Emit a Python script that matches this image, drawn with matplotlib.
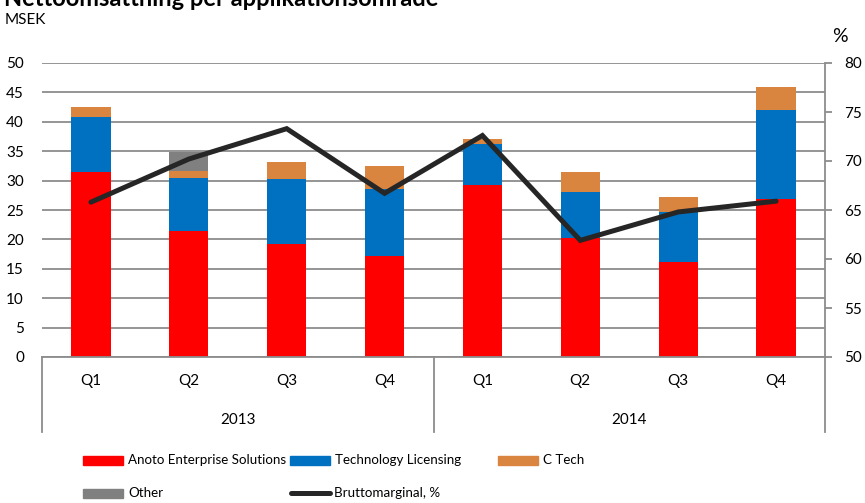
import matplotlib
matplotlib.use("Agg")
import matplotlib.pyplot as plt
from matplotlib.patches import Rectangle
from matplotlib.lines import Line2D
from matplotlib.transforms import blended_transform_factory

# data (MSEK per quarter, 2013 Q1 .. 2014 Q4)
quarters = ["Q1", "Q2", "Q3", "Q4", "Q1", "Q2", "Q3", "Q4"]
years = ["2013", "2014"]
enterprise = [31.4, 21.4, 19.3, 17.1, 29.3, 20.2, 16.2, 26.9]
licensing = [9.4, 9.0, 10.9, 11.4, 6.9, 7.9, 8.4, 15.1]
ctech = [1.8, 1.2, 3.0, 3.9, 0.9, 3.3, 2.6, 3.9]
other = [0.0, 3.3, 0.0, 0.0, 0.0, 0.0, 0.0, 0.0]
gross_margin = [65.8, 70.2, 73.3, 66.7, 72.6, 61.9, 64.8, 65.9]

series_labels = ["Anoto Enterprise Solutions", "Technology Licensing", "C Tech",
                 "Other", "Bruttomarginal, %"]
colors = ["#FF0000", "#0070C0", "#D9843F", "#808080"]
line_color = "#262626"
grid_color = "#8C8C8C"

plt.rcParams["font.family"] = ["Lato", "DejaVu Sans"]

fig = plt.figure(figsize=(8.65, 5.03), dpi=100)
ax = fig.add_axes([42 / 865, 1 - 357 / 503, 783 / 865, 294 / 503])

x = list(range(len(quarters)))
bottom = [0.0] * len(x)
for vals, c in zip([enterprise, licensing, ctech, other], colors):
    ax.bar(x, vals, width=0.4, bottom=bottom, color=c, zorder=2)
    bottom = [b + v for b, v in zip(bottom, vals)]

ax.set_xlim(-0.5, 7.5)
ax.set_ylim(0, 50)
ax.set_yticks(range(0, 51, 5))
ax.yaxis.grid(True, color=grid_color, linewidth=1.3, zorder=0)
ax.set_axisbelow(True)
for s in ["top", "left", "right"]:
    ax.spines[s].set_visible(False)
ax.spines["bottom"].set_color(grid_color)
ax.spines["bottom"].set_linewidth(1.3)
ax.tick_params(axis="y", length=0, pad=13, labelsize=11)
ax.set_xticks(x)
ax.set_xticklabels(quarters)
ax.tick_params(axis="x", length=0, pad=12, labelsize=11)

# multi-level category axis
trans = blended_transform_factory(ax.transData, ax.transAxes)
for xs in [-0.5, 3.5, 7.5]:
    ax.add_line(Line2D([xs, xs], [0, -75 / 294], transform=trans, color=grid_color,
                       linewidth=1.3, clip_on=False))
for i, yr in enumerate(years):
    ax.text(1.5 + 4 * i, -63 / 294, yr, transform=trans, ha="center", va="center", fontsize=11)

ax2 = ax.twinx()
ax2.plot(x, gross_margin, color=line_color, linewidth=3.6, solid_capstyle="round",
         solid_joinstyle="miter", zorder=3)
ax2.set_ylim(50, 80)
ax2.set_yticks(range(50, 81, 5))
for s in ["top", "left", "bottom"]:
    ax2.spines[s].set_visible(False)
ax2.spines["right"].set_color(grid_color)
ax2.spines["right"].set_linewidth(1.3)
ax2.tick_params(axis="y", direction="out", length=5, width=1.3, color=grid_color,
                pad=9, labelsize=11)

# texts (title is cropped at the top edge, as in the source image)
fig.text(0.005, 1 - 6 / 503, "Nettoomsättning per applikationsområde", fontsize=17,
         fontweight="bold", ha="left", va="baseline")
fig.text(5 / 865, 1 - 20 / 503, "MSEK", fontsize=11, ha="left", va="center")
fig.text(840 / 865, 1 - 37 / 503, "%", fontsize=14, ha="center", va="center")

# legend
W, H = 865, 503
entries = [
    (83, 460, "patch", colors[0], series_labels[0]),
    (290, 460, "patch", colors[1], series_labels[1]),
    (498, 460, "patch", colors[2], series_labels[2]),
    (83, 493, "patch", colors[3], series_labels[3]),
    (289, 493, "line", line_color, series_labels[4]),
]
for px, py, kind, c, lab in entries:
    if kind == "patch":
        fig.add_artist(Rectangle((px / W, 1 - (py + 4.5) / H), 40 / W, 9 / H,
                                 transform=fig.transFigure, color=c))
    else:
        fig.add_artist(Line2D([(px + 2) / W, (px + 41) / W], [1 - py / H, 1 - py / H],
                              transform=fig.transFigure, color=c, linewidth=3.6,
                              solid_capstyle="round"))
    fig.text((px + 45) / W, 1 - py / H, lab, fontsize=9.6, ha="left", va="center")

fig.savefig("out.png", dpi=100)
